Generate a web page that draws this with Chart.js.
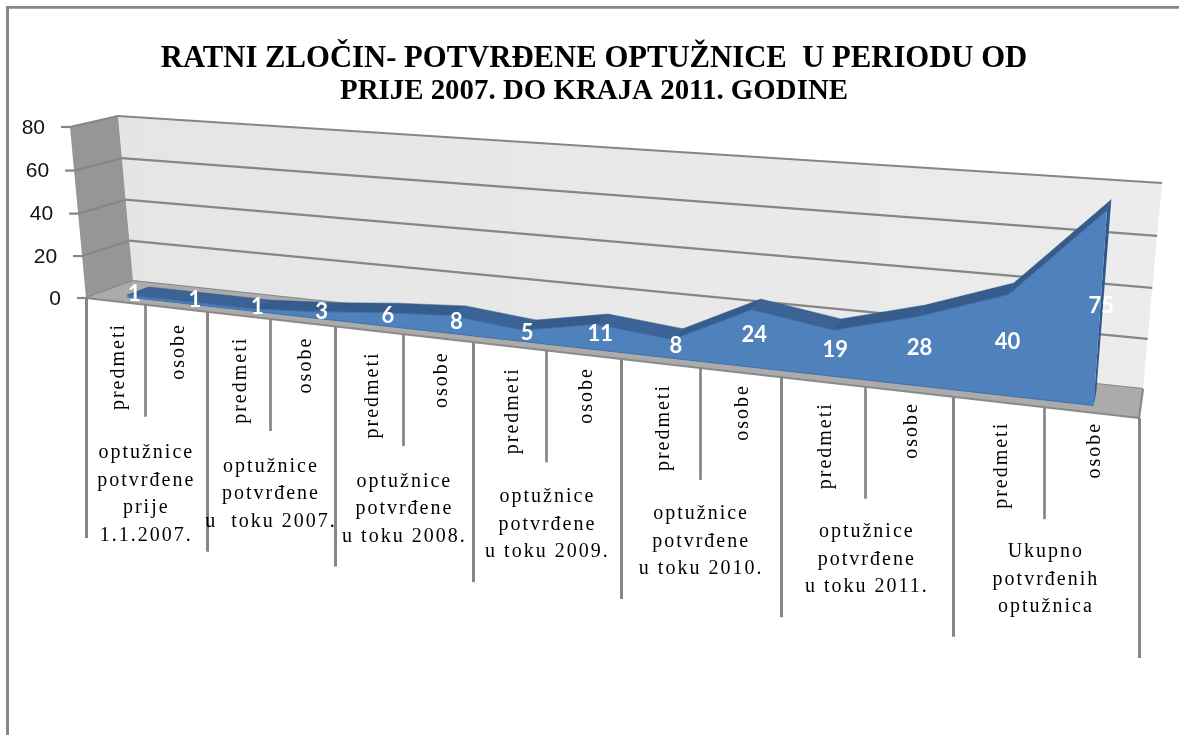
<!DOCTYPE html>
<html><head><meta charset="utf-8">
<style>html,body{margin:0;padding:0;background:#fff}canvas{display:block}</style>
<script src="https://cdn.jsdelivr.net/npm/chart.js@4/dist/chart.umd.js"></script>
</head><body>
<canvas id="c" width="1179" height="735"></canvas>
<script>
const titleLine1 = 'RATNI ZLOČIN- POTVRĐENE OPTUŽNICE  U PERIODU OD';
const titleLine2 = 'PRIJE 2007. DO KRAJA 2011. GODINE';
const categories = ['predmeti','osobe','predmeti','osobe','predmeti','osobe','predmeti','osobe','predmeti','osobe','predmeti','osobe','predmeti','osobe'];
const seriesValues = [1,1,1,3,6,8,5,11,8,24,19,28,40,75];
const groupLabels = [
  ['optužnice','potvrđene','prije','1.1.2007.'],
  ['optužnice','potvrđene','u  toku 2007.'],
  ['optužnice','potvrđene','u toku 2008.'],
  ['optužnice','potvrđene','u toku 2009.'],
  ['optužnice','potvrđene','u toku 2010.'],
  ['optužnice','potvrđene','u toku 2011.'],
  ['Ukupno','potvrđenih','optužnica']
];
const yMax = 80, yStep = 20;

/* perspective of the 3-D box: front and back planes as quads (BL, BR, TR, TL) */
const FRONT = [[86,298],[1139,418],[1154,206],[70,127]];
const BACK  = [[133,281],[1143,389],[1162,183],[118,116]];
const AXIS  = [[86,298],[1139,418],[1154,200],[70,127]];
const D_FRONT = 0.25, D_BACK = 0.72, D_LABEL = 0.4;

function makeH(q){
  const [[x0,y0],[x1,y1],[x2,y2],[x3,y3]] = q;
  const dx1=x1-x2, dx2=x3-x2, sx=x0-x1+x2-x3, dy1=y1-y2, dy2=y3-y2, sy=y0-y1+y2-y3;
  const den=dx1*dy2-dx2*dy1, g=(sx*dy2-dx2*sy)/den, h=(dx1*sy-sx*dy1)/den;
  const a=x1-x0+g*x1, b=x3-x0+h*x3, d=y1-y0+g*y1, e=y3-y0+h*y3;
  return (s,t)=>{const w=g*s+h*t+1;return [(a*s+b*t+x0)/w,(d*s+e*t+y0)/w];};
}
const HF = makeH(FRONT), HB = makeH(BACK), HA = makeH(AXIS);
function P(s,t,d){const f=HF(s,t),b=HB(s,t);return [f[0]+(b[0]-f[0])*d,f[1]+(b[1]-f[1])*d];}

function poly(ctx,pts,fill,stroke,lw){
  ctx.beginPath();pts.forEach((p,i)=>i?ctx.lineTo(p[0],p[1]):ctx.moveTo(p[0],p[1]));ctx.closePath();
  if(fill){ctx.fillStyle=fill;ctx.fill();}
  if(stroke){ctx.strokeStyle=stroke;ctx.lineWidth=lw||1;ctx.stroke();}
}
function seg(ctx,a,b,c,w){ctx.beginPath();ctx.moveTo(a[0],a[1]);ctx.lineTo(b[0],b[1]);ctx.strokeStyle=c;ctx.lineWidth=w;ctx.stroke();}

const GRID='#868686';
let norm=[]; // normalised (s,t) of every point, taken from the library's scales

const box3d = {
  id:'box3d',
  afterDatasetsUpdate(chart){
    const xs=chart.scales.x, ys=chart.scales.y, meta=chart.getDatasetMeta(0);
    norm=meta.data.map((el,i)=>{
      const s=(xs.getPixelForValue(i)-xs.left)/(xs.right-xs.left);
      const t=(ys.bottom-ys.getPixelForValue(seriesValues[i]))/(ys.bottom-ys.top);
      const p=P(s,t,D_FRONT); el.x=p[0]; el.y=p[1];
      return [s,t];
    });
  },
  beforeDatasetsDraw(chart){
    const ctx=chart.ctx, ys=chart.scales.y;
    const tOf=v=>(ys.bottom-ys.getPixelForValue(v))/(ys.bottom-ys.top);
    ctx.save();
    // page frame
    seg(ctx,[7.5,7.3],[1179,7.3],GRID,2.7); seg(ctx,[7.5,6],[7.5,735],GRID,3);
    // walls
    const g=ctx.createLinearGradient(120,0,1160,0);g.addColorStop(0,'#e5e5e5');g.addColorStop(1,'#ececec');
    poly(ctx,BACK,g);
    poly(ctx,[FRONT[0],BACK[0],BACK[3],FRONT[3]],'#969696');
    // grid lines and y ticks
    ys.ticks.forEach(tk=>{
      const t=tOf(tk.value), a=P(0,t,0), b=P(0,t,1), c=P(1,t,1);
      seg(ctx,[a[0]-9,a[1]],a,GRID,2.2);
      seg(ctx,a,b,GRID,2.2);
      seg(ctx,b,c,GRID,2.2);
      ctx.fillStyle='#111';ctx.font='21px "Liberation Sans"';ctx.textAlign='right';ctx.textBaseline='middle';
      ctx.fillText(String(tk.value),a[0]-25,a[1]+1);
    });
    // floor
    poly(ctx,[FRONT[0],FRONT[1],BACK[1],BACK[0]],'#ababab');
    seg(ctx,FRONT[0],FRONT[1],'#8a8a8a',2.2);
    seg(ctx,FRONT[1],BACK[1],'#8a8a8a',2.2);
    // category ticks and labels under the floor
    const n=categories.length;
    ctx.textBaseline='middle';
    for(let i=0;i<=n;i++){
      const b=HA(i/n,0), major=i%2===0, x=Math.round(b[0])+.5;
      seg(ctx,[x,b[1]],[x,b[1]+(major?240:112)],GRID,major?3:2.7);
    }
    ctx.font='20px "Liberation Serif"';ctx.letterSpacing='2px';ctx.fillStyle='#000';
    categories.forEach((c,i)=>{
      const gi=i-(i%2), top=HA(gi/n,0)[1]+25;
      const m=(HA(i/n,0)[0]+HA((i+1)/n,0)[0])/2+3;
      ctx.save();ctx.translate(m,top);ctx.rotate(-Math.PI/2);ctx.textAlign='right';ctx.fillText(c,0,0);ctx.restore();
    });
    ctx.textAlign='center';
    groupLabels.forEach((ls,gi)=>{
      const l=HA(gi*2/n,0), r=HA((gi*2+2)/n,0), y0=l[1]+155;
      ls.forEach((tx,k)=>ctx.fillText(tx,(l[0]+r[0])/2,y0+k*27.5));
    });
    ctx.letterSpacing='0px';
    // area: back ribbon, end caps, front face
    const top=norm.map(q=>P(q[0],q[1],D_FRONT)), topB=norm.map(q=>P(q[0],q[1],D_BACK));
    const s0=norm[0][0], s1=norm[n-1][0];
    poly(ctx,[P(s1,0,D_FRONT),P(s1,0,D_BACK),topB[n-1],top[n-1]],'#2f5788');
    poly(ctx,[P(s0,0,D_FRONT),P(s0,0,D_BACK),topB[0],top[0]],'#3a6090');
    for(let i=0;i<n-1;i++){
      const rising=norm[i+1][1]>norm[i][1];
      poly(ctx,[top[i],top[i+1],topB[i+1],topB[i]],rising?'#365c8c':'#3c6395','rgba(54,92,140,.8)',.6);
    }
    const face=[P(s0,0,D_FRONT)].concat(top,[P(s1,0,D_FRONT)]);
    poly(ctx,face,'#4f81bd');
    seg(ctx,P(s0,0,D_FRONT),P(s1,0,D_FRONT),'#3f6fa8',1);
    ctx.restore();
  },
  afterDatasetsDraw(chart){
    const ctx=chart.ctx;
    ctx.save();
    ctx.fillStyle='#fff';ctx.font='bold 22px Lato';ctx.textAlign='center';ctx.textBaseline='middle';
    seriesValues.forEach((v,i)=>{
      const p=P(norm[i][0],norm[i][1]/2,D_LABEL);
      ctx.fillText(String(v),p[0],p[1]);
    });
    ctx.restore();
  }
};

new Chart(document.getElementById('c'),{
  type:'line',
  data:{labels:categories,datasets:[{
    label:'Potvrđene optužnice',data:seriesValues,
    borderColor:'#3f6fa8',borderWidth:1,pointRadius:0,tension:0,fill:false,clip:false
  }]},
  plugins:[box3d],
  options:{
    responsive:false,animation:false,
    layout:{padding:{left:9,right:0,top:0,bottom:0}},
    plugins:{
      legend:{display:false},tooltip:{enabled:false},
      title:{display:true,text:titleLine1,color:'#000',
        font:{family:'"Liberation Serif"',weight:'bold',size:30.7,lineHeight:1},
        padding:{top:44,bottom:0}},
      subtitle:{display:true,text:titleLine2,color:'#000',
        font:{family:'"Liberation Serif"',weight:'bold',size:28.9,lineHeight:1},
        padding:{top:2,bottom:0}}
    },
    scales:{
      x:{type:'category',offset:true,display:false},
      y:{type:'linear',min:0,max:yMax,display:false,ticks:{stepSize:yStep}}
    }
  }
});
</script>
</body></html>
